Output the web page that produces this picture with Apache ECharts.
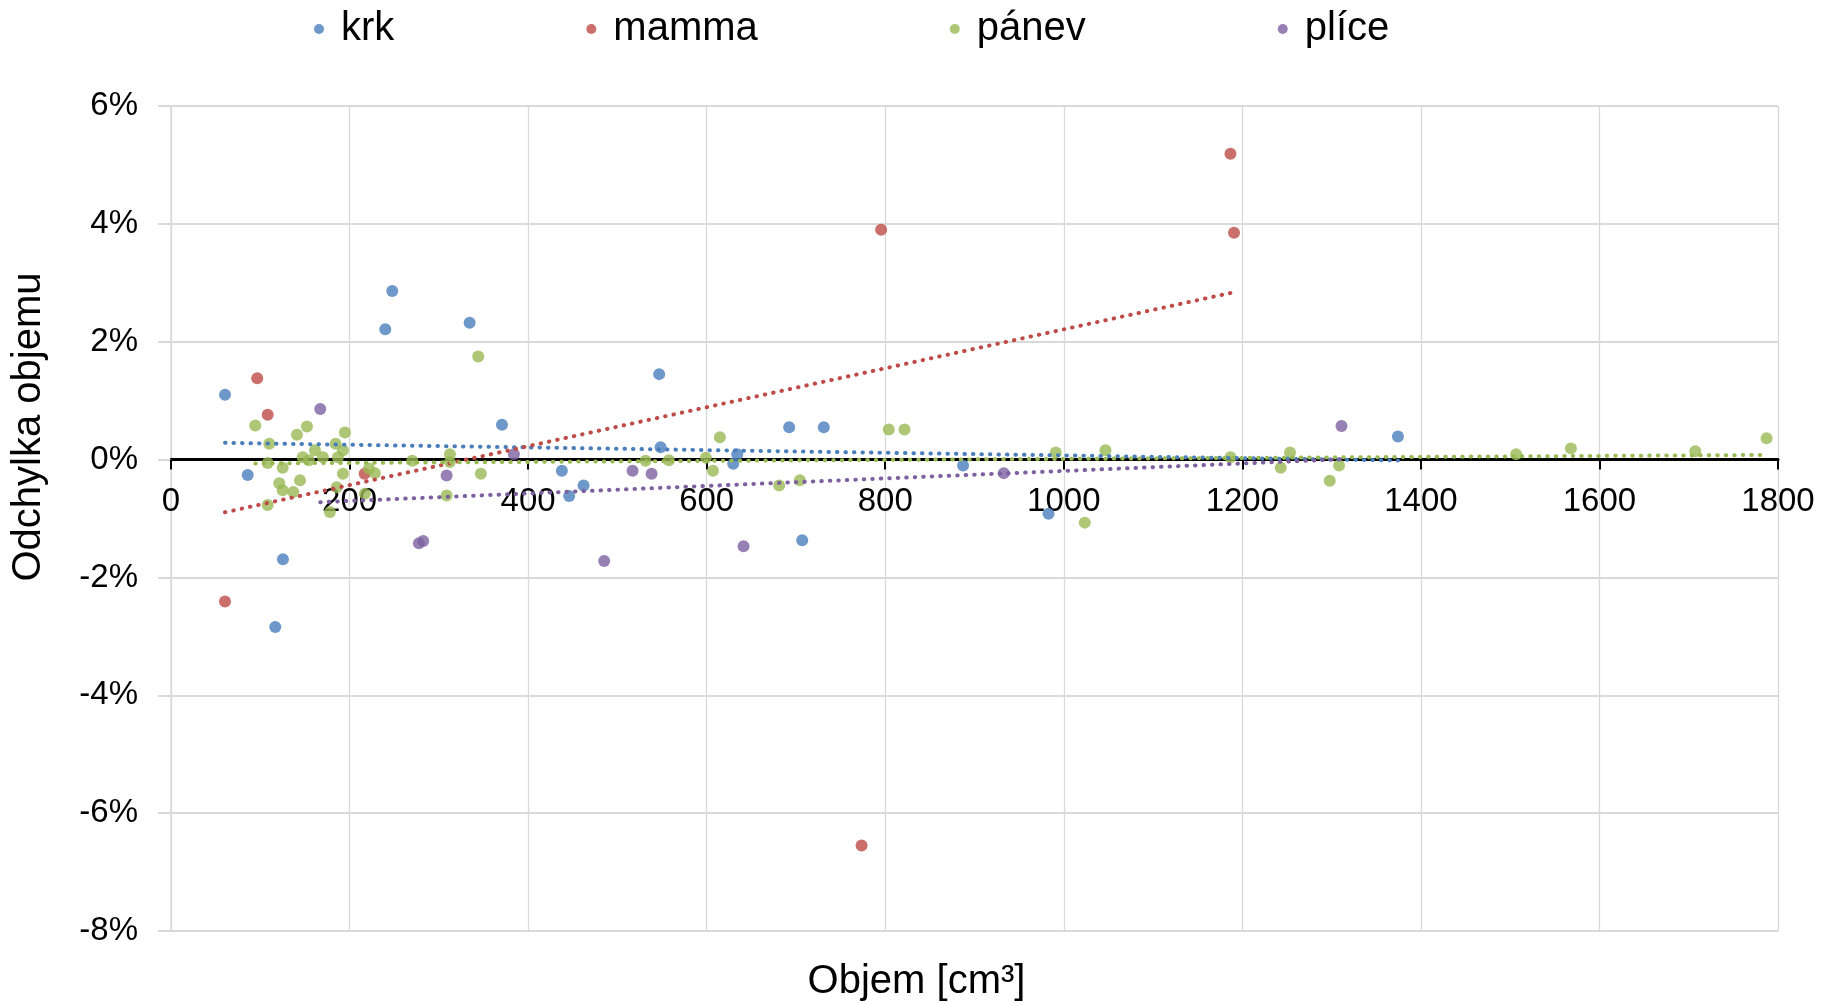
<!DOCTYPE html>
<html>
<head>
<meta charset="utf-8">
<script src="https://cdn.jsdelivr.net/npm/echarts@6/dist/echarts.min.js"></script>
<style>
  html, body { margin: 0; padding: 0; background: #fff; }
  #chart { width: 1833px; height: 1003px; }
</style>
</head>
<body>
<div id="chart"></div>
<script>
// volume [cm3] and deviation [%] per site
const krkX = [247.8, 240.0, 334.5, 60.5, 370.7, 85.9, 125.4, 116.8, 437.8, 546.8, 548.4,
  446.0, 462.1, 634.2, 629.7, 692.4, 731.2, 707.0, 887.2, 982.9, 1374.3];
const krkY = [2.86, 2.21, 2.32, 1.10, 0.59, -0.26, -1.69, -2.84, -0.19, 1.45, 0.21,
  -0.62, -0.44, 0.09, -0.07, 0.55, 0.55, -1.37, -0.10, -0.92, 0.39];

const mammaX = [96.6, 108.3, 60.5, 216.9, 795.4, 773.5, 1186.7, 1190.7];
const mammaY = [1.38, 0.76, -2.41, -0.24, 3.90, -6.55, 5.19, 3.85];

const panevX = [94.4, 110.1, 108.3, 125.1, 108.3, 121.3, 125.1, 137.0, 144.5, 141.1,
  152.3, 147.5, 154.5, 161.3, 170.2, 184.4, 187.0, 194.8, 192.6, 192.6, 185.6, 178.0,
  217.2, 221.7, 228.4, 270.2, 312.4, 312.4, 308.7, 344.1, 347.1, 531.6, 557.7, 599.1,
  607.0, 614.8, 681.2, 704.4, 804.0, 821.6, 991.0, 1046.7, 1186.7, 1243.0, 1253.4,
  1297.9, 1308.3, 1023.5, 1506.7, 1568.0, 1707.3, 1787.2];
const panevY = [0.58, 0.27, -0.06, -0.14, -0.77, -0.40, -0.52, -0.55, -0.35, 0.42,
  0.56, 0.04, -0.01, 0.16, 0.04, 0.27, 0.04, 0.46, 0.16, -0.24, -0.47, -0.89,
  -0.58, -0.15, -0.23, -0.02, 0.09, -0.04, -0.61, 1.75, -0.24, -0.02, -0.01, 0.03,
  -0.19, 0.38, -0.44, -0.35, 0.51, 0.51, 0.12, 0.16, 0.04, -0.14, 0.12,
  -0.36, -0.10, -1.07, 0.09, 0.19, 0.14, 0.36];

const pliceX = [167.2, 308.7, 384.1, 277.7, 282.5, 517.0, 538.3, 485.2, 641.3, 932.8, 1311.1];
const pliceY = [0.86, -0.27, 0.09, -1.42, -1.38, -0.19, -0.24, -1.72, -1.47, -0.23, 0.57];

const seriesNames = ['krk', 'mamma', 'pánev', 'plíce'];
const seriesColors = ['#4A7EBB', '#BE4B48', '#98B954', '#7D60A0'];
const xTicks = { min: 0, max: 1800, step: 200 };
const yTicks = { min: -8, max: 6, step: 2 };

const font = 'Liberation Sans, Arial, sans-serif';

const gridTop = 106;
const gridBottom = 72;
const plotHeight = 1003 - gridTop - gridBottom;
// the value axis crosses at 0, so lift the x axis up to that line
const xAxisShift = -plotHeight * (0 - yTicks.min) / (yTicks.max - yTicks.min);

const toPoints = (xs, ys) => xs.map((x, i) => [x, ys[i]]);

// least squares trendline over the x range of the series
const trendline = (xs, ys) => {
  const n = xs.length;
  let sx = 0, sy = 0, sxx = 0, sxy = 0;
  xs.forEach((x, i) => {
    sx += x; sy += ys[i]; sxx += x * x; sxy += x * ys[i];
  });
  const b = (n * sxy - sx * sy) / (n * sxx - sx * sx);
  const a = (sy - b * sx) / n;
  const lo = Math.min(...xs);
  const hi = Math.max(...xs);
  return [[lo, a + b * lo], [hi, a + b * hi]];
};

const groups = [[krkX, krkY], [mammaX, mammaY], [panevX, panevY], [pliceX, pliceY]];

const series = [];
groups.forEach(([xs, ys], i) => {
  series.push({
    name: seriesNames[i],
    type: 'scatter',
    data: toPoints(xs, ys),
    symbol: 'circle',
    symbolSize: 12,
    z: 2,
    itemStyle: { color: seriesColors[i] }
  });
});
groups.forEach(([xs, ys], i) => {
  series.push({
    name: seriesNames[i] + ' trend',
    type: 'line',
    data: trendline(xs, ys),
    symbol: 'none',
    silent: true,
    z: 3,
    lineStyle: { color: seriesColors[i], width: 4, type: [0.5, 8], cap: 'round' }
  });
});

const chart = echarts.init(document.getElementById('chart'));
chart.setOption({
  animation: false,
  textStyle: { fontFamily: font },
  color: seriesColors,
  title: {
    text: 'Objem [cm³]',
    left: 'center',
    top: 957,
    textStyle: { fontFamily: font, fontSize: 40, fontWeight: 'normal', color: '#000' }
  },
  legend: {
    data: seriesNames,
    left: 309,
    top: 4,
    icon: 'circle',
    itemWidth: 10,
    itemHeight: 10,
    itemGap: 192,
    textStyle: { fontFamily: font, fontSize: 40, color: '#000', padding: [0, 0, 0, 12] }
  },
  graphic: [{
    type: 'text',
    x: 29,
    y: 427,
    rotation: Math.PI / 2,
    style: {
      text: 'Odchylka objemu',
      x: 0,
      y: 0,
      align: 'center',
      verticalAlign: 'middle',
      font: '40px ' + font,
      fill: '#000'
    }
  }],
  grid: { left: 171, right: 55, top: gridTop, bottom: gridBottom, containLabel: false },
  xAxis: {
    type: 'value',
    min: xTicks.min,
    max: xTicks.max,
    interval: xTicks.step,
    offset: xAxisShift,
    axisLine: { onZero: false, lineStyle: { color: '#000', width: 3 } },
    axisTick: { show: true, inside: false, length: 10, lineStyle: { color: '#000', width: 2 } },
    axisLabel: {
      fontFamily: font, fontSize: 33, color: '#000', margin: 26,
      formatter: (v) => String(v)
    },
    splitLine: { show: true, lineStyle: { color: '#d9d9d9', width: 1.3 } }
  },
  yAxis: {
    type: 'value',
    min: yTicks.min,
    max: yTicks.max,
    interval: yTicks.step,
    axisLine: { show: true, onZero: false, lineStyle: { color: '#d9d9d9', width: 1.5 } },
    axisTick: { show: true, length: 13, lineStyle: { color: '#d9d9d9', width: 2 } },
    axisLabel: { fontFamily: font, fontSize: 33, color: '#000', margin: 33, formatter: '{value}%' },
    splitLine: { show: true, lineStyle: { color: '#d9d9d9', width: 2 } }
  },
  series
});
</script>
</body>
</html>
